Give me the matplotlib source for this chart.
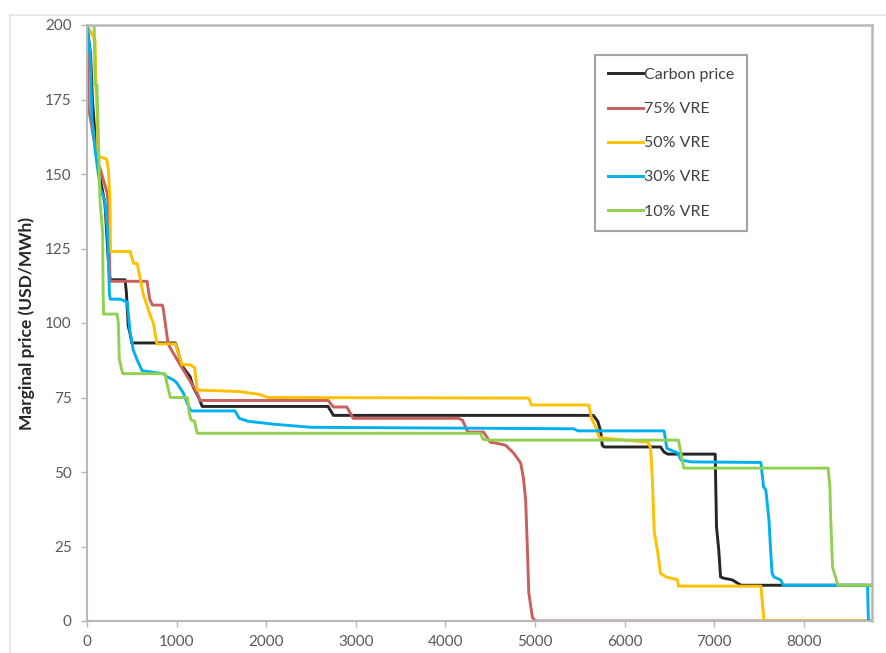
from __future__ import annotations

import matplotlib

matplotlib.use("Agg")
from matplotlib import pyplot as plt
from matplotlib.lines import Line2D

OUTPUT_FILE = "out.png"

# price duration curves, hours of the year vs marginal price (USD/MWh)
carbon_hours = [0, 40, 60, 110, 150, 200, 240, 257, 425, 440, 460, 480, 500, 985, 1010, 1040, 1075,
                1150, 1185, 1230, 1260, 1285, 2690, 2750, 5650, 5700, 5730, 5750, 5770, 6400, 6440,
                6480, 7010, 7025, 7050, 7070, 7100, 7200, 7260, 7300, 8760]
carbon_price = [200, 190, 175, 155, 148, 140, 120, 114.5, 114.5, 110, 99, 96.5, 93.3, 93.3, 91, 87.6, 85,
                82, 78.5, 76, 74, 72, 72, 69, 69, 67, 64, 59, 58.4, 58.4, 56.7,
                56, 56, 31.5, 23.8, 14.8, 14.4, 13.8, 12.7, 12, 12]

vre75_hours = [0, 10, 15, 30, 120, 145, 225, 235, 257, 670, 700, 730, 840, 850, 905, 960, 1230, 1260,
               2690, 2750, 2900, 2970, 4145, 4190, 4250, 4425, 4500, 4560, 4670, 4760, 4840, 4870,
               4895, 4915, 4930, 4970, 5000, 8760]
vre75_price = [200, 185, 172, 170, 153.7, 152, 143.6, 141, 114, 114, 108, 106, 106, 105, 93, 90, 76.5, 74,
               74, 71.8, 71.8, 68, 68, 67.4, 63.4, 63.4, 60, 59.7, 59, 56.4, 53, 48,
               40.6, 23.8, 9.4, 1.3, 0, 0]

vre50_hours = [0, 90, 100, 115, 120, 220, 240, 257, 262, 480, 520, 560, 600, 625, 700, 740, 780, 985,
               1040, 1060, 1150, 1200, 1230, 1700, 1930, 2020, 4930, 4960, 5600, 5630, 5680, 5710,
               5730, 6260, 6290, 6310, 6330, 6370, 6400, 6460, 6590, 6600, 7520, 7540, 7555, 8760]
vre50_price = [200, 195, 178, 170, 156, 155, 151, 140, 124, 124, 120, 120, 114, 110, 103, 100, 93, 93,
               88, 86, 86, 85, 77.5, 77, 76, 75, 74.8, 72.5, 72.5, 68, 65, 62,
               61.5, 60, 58, 47, 30, 22.8, 16, 14.8, 13.8, 11.7, 11.7, 5, 0, 0]

vre30_hours = [0, 35, 55, 70, 90, 150, 200, 230, 245, 250, 260, 370, 450, 480, 500, 515, 560, 615, 850,
               890, 960, 1000, 1075, 1120, 1150, 1170, 1650, 1700, 1800, 2100, 2500, 5430, 5480,
               6440, 6470, 6510, 6590, 6630, 6740, 7520, 7550, 7575, 7610, 7630, 7645, 7665, 7740,
               7770, 8710, 8720, 8760]
vre30_price = [200, 190, 168, 165, 158, 145, 141, 130, 115, 110, 108, 108, 107, 97, 94, 91, 87.6, 84, 83,
               82, 81, 80, 76.5, 73, 71, 70.5, 70.5, 68, 67, 66, 65, 64.5, 63.8,
               63.8, 58, 57.4, 56.4, 54, 53.4, 53.2, 45, 44, 34, 23, 16, 14.8, 13.8,
               12, 12, 0, 0]

vre10_hours = [0, 80, 90, 110, 120, 145, 175, 180, 185, 335, 350, 360, 390, 400, 870, 890, 930, 1120,
               1140, 1160, 1200, 1230, 4390, 4420, 4500, 6600, 6660, 8270, 8290, 8300, 8320, 8380, 8760]
vre10_price = [200, 200, 180, 180, 170, 141, 130, 110, 103, 103, 100, 88, 84, 83, 83, 80, 75, 75,
               70, 67.5, 67, 63, 63, 61, 60.7, 60.7, 51.3, 51.3, 45, 34, 18, 12, 12]

series_labels = ["Carbon price", "75% VRE", "50% VRE", "30% VRE", "10% VRE"]
series_colors = ["#262626", "#c9605c", "#ffc000", "#00b0f0", "#92d050"]

x_ticks = [0, 1000, 2000, 3000, 4000, 5000, 6000, 7000, 8000]
y_ticks = [0, 25, 50, 75, 100, 125, 150, 175, 200]


def plot_duration_curves():
    plt.rcParams["font.family"] = ["Lato", "DejaVu Sans"]

    fig = plt.figure(figsize=(8.86, 6.53), dpi=100)
    ax = fig.add_axes([87 / 886, 1 - 621 / 653, (872 - 87) / 886, (621 - 25) / 653])

    # faint outer chart border (top and left edges visible)
    fig.add_artist(Line2D([10 / 886, 1], [1 - 15 / 653, 1 - 15 / 653], color="#e3e3e3", lw=1.2))
    fig.add_artist(Line2D([10 / 886, 10 / 886], [0, 1 - 15 / 653], color="#e3e3e3", lw=1.2))

    data = [
        (carbon_hours, carbon_price),
        (vre75_hours, vre75_price),
        (vre50_hours, vre50_price),
        (vre30_hours, vre30_price),
        (vre10_hours, vre10_price),
    ]
    for (hours, price), label, color in zip(data, series_labels, series_colors):
        ax.plot(hours, price, color=color, lw=2.1, label=label, solid_joinstyle="round")

    ax.set_xlim(0, 8760)
    ax.set_ylim(0, 200)
    ax.set_xticks(x_ticks)
    ax.set_yticks(y_ticks)

    for side, spine in ax.spines.items():
        spine.set_color("#b8b8b8")
        spine.set_linewidth(1.8 if side in ("top", "right") else 1.5)

    ax.tick_params(axis="both", direction="out", length=4, width=1, color="#b8b8b8",
                   labelsize=11, labelcolor="#595959")
    ax.tick_params(axis="y", pad=7)
    ax.tick_params(axis="x", pad=6)

    ax.set_ylabel("Marginal price (USD/MWh)", fontsize=12.5, fontweight="bold", color="#262626")
    ax.yaxis.set_label_coords(-0.066, 0.5)

    legend = ax.legend(
        loc="upper left",
        bbox_to_anchor=(595 / 886, 1 - 55 / 653),
        bbox_transform=fig.transFigure,
        fontsize=11.5,
        frameon=True,
        fancybox=False,
        handlelength=2.2,
        handletextpad=0.05,
        labelspacing=1.25,
        borderpad=0.8,
        borderaxespad=0,
    )
    legend.get_frame().set_edgecolor("#8c8c8c")
    legend.get_frame().set_linewidth(1.5)
    for text in legend.get_texts():
        text.set_color("#404040")

    fig.savefig(OUTPUT_FILE, dpi=100)
    plt.close(fig)


if __name__ == "__main__":
    plot_duration_curves()
